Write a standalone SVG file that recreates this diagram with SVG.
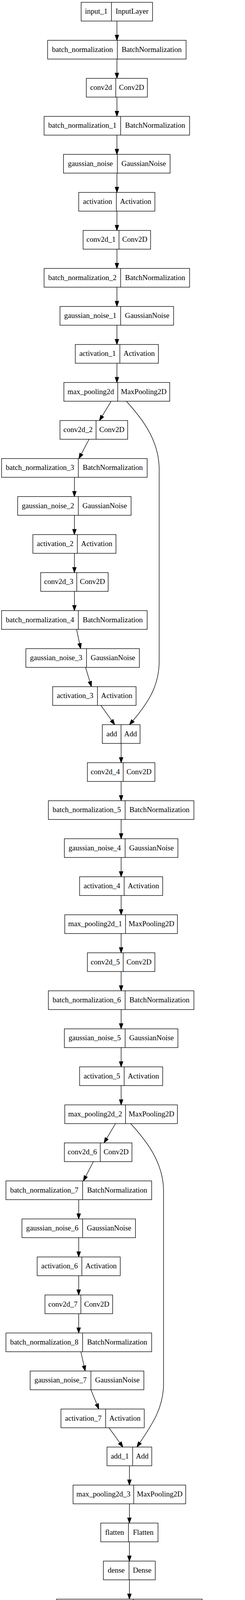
<svg xmlns="http://www.w3.org/2000/svg" width="628" height="4343" viewBox="0 0 628 4343">
<style>
.n rect{fill:#fff;stroke:#000;stroke-width:1.33}
.n line{stroke:#000;stroke-width:1.33}
.n text{font-family:"Liberation Serif","Times New Roman",serif;font-size:19px;text-anchor:middle;fill:#000}
#edges line,#edges path{fill:none;stroke:#000;stroke-width:1.33;marker-end:url(#ah)}
</style>
<defs>
<marker id="ah" markerUnits="userSpaceOnUse" viewBox="0 0 13.3 9.34" markerWidth="13.3" markerHeight="9.34" refX="0" refY="4.67" orient="auto" style="overflow:visible">
<path d="M0,0 L13.3,4.67 L0,9.34 Z" fill="#000" stroke="#000" stroke-width="1.33" stroke-linejoin="miter"/>
</marker>
</defs>
<rect width="628" height="4343" fill="#fff"/>
<g id="edges">
<line x1="299.7" y1="53.9" x2="299.7" y2="89.93"/>
<line x1="299.7" y1="151.23" x2="299.7" y2="187.26"/>
<line x1="299.7" y1="248.56" x2="299.7" y2="284.59"/>
<line x1="299.7" y1="345.89" x2="299.7" y2="381.92"/>
<line x1="299.7" y1="443.22" x2="299.7" y2="479.25"/>
<line x1="299.7" y1="540.55" x2="299.7" y2="576.58"/>
<line x1="299.7" y1="637.88" x2="299.7" y2="673.91"/>
<line x1="299.7" y1="735.21" x2="299.7" y2="771.24"/>
<line x1="299.7" y1="832.54" x2="299.7" y2="868.57"/>
<line x1="299.7" y1="929.87" x2="299.7" y2="965.9"/>
<line x1="285" y1="1027.2" x2="261.91" y2="1065.17"/>
<path d="M324,1027.2 C360,1067 406,1122 408,1197 L408,1692 C408,1752 384,1794 340.5,1845.2"/>
<line x1="228.3" y1="1124.53" x2="208.5" y2="1162.09"/>
<line x1="190.7" y1="1221.86" x2="190.7" y2="1257.89"/>
<line x1="190.7" y1="1319.19" x2="190.7" y2="1355.22"/>
<line x1="190.7" y1="1416.52" x2="190.7" y2="1452.55"/>
<line x1="190.7" y1="1513.85" x2="190.7" y2="1549.88"/>
<line x1="196.3" y1="1611.18" x2="203.96" y2="1647.49"/>
<line x1="219.3" y1="1708.51" x2="230.43" y2="1745.12"/>
<line x1="258.7" y1="1805.84" x2="286.26" y2="1844.35"/>
<line x1="310.5" y1="1903.17" x2="310.5" y2="1939.2"/>
<line x1="310.5" y1="2000.5" x2="310.5" y2="2036.53"/>
<line x1="310.5" y1="2097.83" x2="310.5" y2="2133.86"/>
<line x1="310.5" y1="2195.16" x2="310.5" y2="2231.19"/>
<line x1="310.5" y1="2292.49" x2="310.5" y2="2328.52"/>
<line x1="310.5" y1="2389.82" x2="310.5" y2="2425.85"/>
<line x1="310.5" y1="2487.15" x2="310.5" y2="2523.18"/>
<line x1="310.5" y1="2584.48" x2="310.5" y2="2620.51"/>
<line x1="310.5" y1="2681.81" x2="310.5" y2="2717.84"/>
<line x1="310.5" y1="2779.14" x2="310.5" y2="2815.17"/>
<line x1="296" y1="2876.47" x2="273.49" y2="2914.37"/>
<path d="M335,2876.47 C371,2916 417.3,2971 419.3,3046 L419.3,3541 C419.3,3601 394,3641 358.5,3693.4"/>
<line x1="239.3" y1="2973.8" x2="219.83" y2="3011.32"/>
<line x1="201.7" y1="3071.13" x2="201.7" y2="3107.16"/>
<line x1="201.7" y1="3168.46" x2="201.7" y2="3204.49"/>
<line x1="201.7" y1="3265.79" x2="201.7" y2="3301.82"/>
<line x1="201.7" y1="3363.12" x2="201.7" y2="3399.15"/>
<line x1="207.3" y1="3460.45" x2="215.41" y2="3496.8"/>
<line x1="233" y1="3557.78" x2="248.24" y2="3594.81"/>
<line x1="279.3" y1="3655.11" x2="307.2" y2="3693.67"/>
<line x1="331.7" y1="3752.44" x2="331.7" y2="3788.47"/>
<line x1="331.7" y1="3849.77" x2="331.7" y2="3885.8"/>
<line x1="331.7" y1="3947.1" x2="331.7" y2="3983.13"/>
<line x1="331.7" y1="4044.43" x2="331.7" y2="4080.46"/>
<line x1="331.7" y1="4141.76" x2="331.7" y2="4177.79"/>
<line x1="331.7" y1="4239.09" x2="331.7" y2="4275.12"/>
</g>
<g id="input_1" class="n"><rect x="208" y="5.9" width="183" height="48"/><line x1="285.7" y1="5.9" x2="285.7" y2="53.9"/><text x="246.85" y="35.4">input_1</text><text x="338.35" y="35.4">InputLayer</text></g>
<g id="batch_normalization" class="n"><rect x="122" y="103.23" width="355" height="48"/><line x1="300.7" y1="103.23" x2="300.7" y2="151.23"/><text x="211.35" y="132.73">batch_normalization</text><text x="388.85" y="132.73">BatchNormalization</text></g>
<g id="conv2d" class="n"><rect x="221.3" y="200.56" width="156.4" height="48"/><line x1="296.7" y1="200.56" x2="296.7" y2="248.56"/><text x="259" y="230.06">conv2d</text><text x="337.2" y="230.06">Conv2D</text></g>
<g id="batch_normalization_1" class="n"><rect x="113" y="297.89" width="373" height="48"/><line x1="309.3" y1="297.89" x2="309.3" y2="345.89"/><text x="211.15" y="327.39">batch_normalization_1</text><text x="397.65" y="327.39">BatchNormalization</text></g>
<g id="gaussian_noise" class="n"><rect x="162.7" y="395.22" width="273.3" height="48"/><line x1="300.7" y1="395.22" x2="300.7" y2="443.22"/><text x="231.7" y="424.72">gaussian_noise</text><text x="368.35" y="424.72">GaussianNoise</text></g>
<g id="activation" class="n"><rect x="201.7" y="492.55" width="195.3" height="48"/><line x1="298.3" y1="492.55" x2="298.3" y2="540.55"/><text x="250" y="522.05">activation</text><text x="347.65" y="522.05">Activation</text></g>
<g id="conv2d_1" class="n"><rect x="213" y="589.88" width="173" height="48"/><line x1="305" y1="589.88" x2="305" y2="637.88"/><text x="259" y="619.38">conv2d_1</text><text x="345.5" y="619.38">Conv2D</text></g>
<g id="batch_normalization_2" class="n"><rect x="113" y="687.21" width="373" height="48"/><line x1="309.3" y1="687.21" x2="309.3" y2="735.21"/><text x="211.15" y="716.71">batch_normalization_2</text><text x="397.65" y="716.71">BatchNormalization</text></g>
<g id="gaussian_noise_1" class="n"><rect x="153.7" y="784.54" width="291.3" height="48"/><line x1="309.3" y1="784.54" x2="309.3" y2="832.54"/><text x="231.5" y="814.04">gaussian_noise_1</text><text x="377.15" y="814.04">GaussianNoise</text></g>
<g id="activation_1" class="n"><rect x="193" y="881.87" width="213" height="48"/><line x1="307.3" y1="881.87" x2="307.3" y2="929.87"/><text x="250.15" y="911.37">activation_1</text><text x="356.65" y="911.37">Activation</text></g>
<g id="max_pooling2d" class="n"><rect x="163.7" y="979.2" width="271.3" height="48"/><line x1="301.7" y1="979.2" x2="301.7" y2="1027.2"/><text x="232.7" y="1008.7">max_pooling2d</text><text x="368.35" y="1008.7">MaxPooling2D</text></g>
<g id="conv2d_2" class="n"><rect x="153.7" y="1076.53" width="173.6" height="48"/><line x1="246.3" y1="1076.53" x2="246.3" y2="1124.53"/><text x="200" y="1106.03">conv2d_2</text><text x="286.8" y="1106.03">Conv2D</text></g>
<g id="batch_normalization_3" class="n"><rect x="4" y="1173.86" width="373.3" height="48"/><line x1="200.7" y1="1173.86" x2="200.7" y2="1221.86"/><text x="102.35" y="1203.36">batch_normalization_3</text><text x="289" y="1203.36">BatchNormalization</text></g>
<g id="gaussian_noise_2" class="n"><rect x="45.3" y="1271.19" width="290.7" height="48"/><line x1="200.7" y1="1271.19" x2="200.7" y2="1319.19"/><text x="123" y="1300.69">gaussian_noise_2</text><text x="268.35" y="1300.69">GaussianNoise</text></g>
<g id="activation_2" class="n"><rect x="84.3" y="1368.52" width="213" height="48"/><line x1="198.3" y1="1368.52" x2="198.3" y2="1416.52"/><text x="141.3" y="1398.02">activation_2</text><text x="247.8" y="1398.02">Activation</text></g>
<g id="conv2d_3" class="n"><rect x="104.3" y="1465.85" width="173" height="48"/><line x1="196.7" y1="1465.85" x2="196.7" y2="1513.85"/><text x="150.5" y="1495.35">conv2d_3</text><text x="237" y="1495.35">Conv2D</text></g>
<g id="batch_normalization_4" class="n"><rect x="4" y="1563.18" width="373.3" height="48"/><line x1="200.7" y1="1563.18" x2="200.7" y2="1611.18"/><text x="102.35" y="1592.68">batch_normalization_4</text><text x="289" y="1592.68">BatchNormalization</text></g>
<g id="gaussian_noise_3" class="n"><rect x="66.3" y="1660.51" width="291" height="48"/><line x1="221.7" y1="1660.51" x2="221.7" y2="1708.51"/><text x="144" y="1690.01">gaussian_noise_3</text><text x="289.5" y="1690.01">GaussianNoise</text></g>
<g id="activation_3" class="n"><rect x="135" y="1757.84" width="213.7" height="48"/><line x1="249.7" y1="1757.84" x2="249.7" y2="1805.84"/><text x="192.35" y="1787.34">activation_3</text><text x="299.2" y="1787.34">Activation</text></g>
<g id="add" class="n"><rect x="262.3" y="1855.17" width="96.7" height="48"/><line x1="310.3" y1="1855.17" x2="310.3" y2="1903.17"/><text x="286.3" y="1884.67">add</text><text x="334.65" y="1884.67">Add</text></g>
<g id="conv2d_4" class="n"><rect x="224" y="1952.5" width="173" height="48"/><line x1="315.7" y1="1952.5" x2="315.7" y2="2000.5"/><text x="269.85" y="1982">conv2d_4</text><text x="356.35" y="1982">Conv2D</text></g>
<g id="batch_normalization_5" class="n"><rect x="124" y="2049.83" width="373" height="48"/><line x1="320.7" y1="2049.83" x2="320.7" y2="2097.83"/><text x="222.35" y="2079.33">batch_normalization_5</text><text x="408.85" y="2079.33">BatchNormalization</text></g>
<g id="gaussian_noise_4" class="n"><rect x="165" y="2147.16" width="291" height="48"/><line x1="320.7" y1="2147.16" x2="320.7" y2="2195.16"/><text x="242.85" y="2176.66">gaussian_noise_4</text><text x="388.35" y="2176.66">GaussianNoise</text></g>
<g id="activation_4" class="n"><rect x="204" y="2244.49" width="213" height="48"/><line x1="318.3" y1="2244.49" x2="318.3" y2="2292.49"/><text x="261.15" y="2273.99">activation_4</text><text x="367.65" y="2273.99">Activation</text></g>
<g id="max_pooling2d_1" class="n"><rect x="166" y="2341.82" width="288.7" height="48"/><line x1="321.7" y1="2341.82" x2="321.7" y2="2389.82"/><text x="243.85" y="2371.32">max_pooling2d_1</text><text x="388.2" y="2371.32">MaxPooling2D</text></g>
<g id="conv2d_5" class="n"><rect x="224" y="2439.15" width="173" height="48"/><line x1="315.7" y1="2439.15" x2="315.7" y2="2487.15"/><text x="269.85" y="2468.65">conv2d_5</text><text x="356.35" y="2468.65">Conv2D</text></g>
<g id="batch_normalization_6" class="n"><rect x="124" y="2536.48" width="373" height="48"/><line x1="320.7" y1="2536.48" x2="320.7" y2="2584.48"/><text x="222.35" y="2565.98">batch_normalization_6</text><text x="408.85" y="2565.98">BatchNormalization</text></g>
<g id="gaussian_noise_5" class="n"><rect x="165" y="2633.81" width="291" height="48"/><line x1="320.7" y1="2633.81" x2="320.7" y2="2681.81"/><text x="242.85" y="2663.31">gaussian_noise_5</text><text x="388.35" y="2663.31">GaussianNoise</text></g>
<g id="activation_5" class="n"><rect x="204" y="2731.14" width="213" height="48"/><line x1="318.3" y1="2731.14" x2="318.3" y2="2779.14"/><text x="261.15" y="2760.64">activation_5</text><text x="367.65" y="2760.64">Activation</text></g>
<g id="max_pooling2d_2" class="n"><rect x="166" y="2828.47" width="288.7" height="48"/><line x1="321.7" y1="2828.47" x2="321.7" y2="2876.47"/><text x="243.85" y="2857.97">max_pooling2d_2</text><text x="388.2" y="2857.97">MaxPooling2D</text></g>
<g id="conv2d_6" class="n"><rect x="165" y="2925.8" width="173.3" height="48"/><line x1="257" y1="2925.8" x2="257" y2="2973.8"/><text x="211" y="2955.3">conv2d_6</text><text x="297.65" y="2955.3">Conv2D</text></g>
<g id="batch_normalization_7" class="n"><rect x="15.3" y="3023.13" width="373.4" height="48"/><line x1="211.7" y1="3023.13" x2="211.7" y2="3071.13"/><text x="113.5" y="3052.63">batch_normalization_7</text><text x="300.2" y="3052.63">BatchNormalization</text></g>
<g id="gaussian_noise_6" class="n"><rect x="56.3" y="3120.46" width="291" height="48"/><line x1="211.7" y1="3120.46" x2="211.7" y2="3168.46"/><text x="134" y="3149.96">gaussian_noise_6</text><text x="279.5" y="3149.96">GaussianNoise</text></g>
<g id="activation_6" class="n"><rect x="95.3" y="3217.79" width="213" height="48"/><line x1="209.7" y1="3217.79" x2="209.7" y2="3265.79"/><text x="152.5" y="3247.29">activation_6</text><text x="259" y="3247.29">Activation</text></g>
<g id="conv2d_7" class="n"><rect x="115.3" y="3315.12" width="173.4" height="48"/><line x1="207.3" y1="3315.12" x2="207.3" y2="3363.12"/><text x="161.3" y="3344.62">conv2d_7</text><text x="248" y="3344.62">Conv2D</text></g>
<g id="batch_normalization_8" class="n"><rect x="15.3" y="3412.45" width="373.4" height="48"/><line x1="211.7" y1="3412.45" x2="211.7" y2="3460.45"/><text x="113.5" y="3441.95">batch_normalization_8</text><text x="300.2" y="3441.95">BatchNormalization</text></g>
<g id="gaussian_noise_7" class="n"><rect x="77.3" y="3509.78" width="291.4" height="48"/><line x1="233" y1="3509.78" x2="233" y2="3557.78"/><text x="155.15" y="3539.28">gaussian_noise_7</text><text x="300.85" y="3539.28">GaussianNoise</text></g>
<g id="activation_7" class="n"><rect x="156.3" y="3607.11" width="213.4" height="48"/><line x1="270.7" y1="3607.11" x2="270.7" y2="3655.11"/><text x="213.5" y="3636.61">activation_7</text><text x="320.2" y="3636.61">Activation</text></g>
<g id="add_1" class="n"><rect x="274.3" y="3704.44" width="114.7" height="48"/><line x1="340" y1="3704.44" x2="340" y2="3752.44"/><text x="307.15" y="3733.94">add_1</text><text x="364.5" y="3733.94">Add</text></g>
<g id="max_pooling2d_3" class="n"><rect x="187.3" y="3801.77" width="288.7" height="48"/><line x1="342.7" y1="3801.77" x2="342.7" y2="3849.77"/><text x="265" y="3831.27">max_pooling2d_3</text><text x="409.35" y="3831.27">MaxPooling2D</text></g>
<g id="flatten" class="n"><rect x="258.3" y="3899.1" width="146.7" height="48"/><line x1="329.3" y1="3899.1" x2="329.3" y2="3947.1"/><text x="293.8" y="3928.6">flatten</text><text x="367.15" y="3928.6">Flatten</text></g>
<g id="dense" class="n"><rect x="265" y="3996.43" width="133" height="48"/><line x1="330.7" y1="3996.43" x2="330.7" y2="4044.43"/><text x="297.85" y="4025.93">dense</text><text x="364.35" y="4025.93">Dense</text></g>
<g id="batch_normalization_9" class="n"><rect x="145" y="4093.76" width="373.3" height="48"/><line x1="341.7" y1="4093.76" x2="341.7" y2="4141.76"/><text x="243.35" y="4123.26">batch_normalization_9</text><text x="430" y="4123.26">BatchNormalization</text></g>
<g id="gaussian_noise_8" class="n"><rect x="186" y="4191.09" width="291" height="48"/><line x1="341.7" y1="4191.09" x2="341.7" y2="4239.09"/><text x="263.85" y="4220.59">gaussian_noise_8</text><text x="409.35" y="4220.59">GaussianNoise</text></g>
<g id="activation_8" class="n"><rect x="225" y="4288.42" width="213" height="48"/><line x1="339.3" y1="4288.42" x2="339.3" y2="4336.42"/><text x="282.15" y="4317.92">activation_8</text><text x="388.65" y="4317.92">Activation</text></g>
</svg>
